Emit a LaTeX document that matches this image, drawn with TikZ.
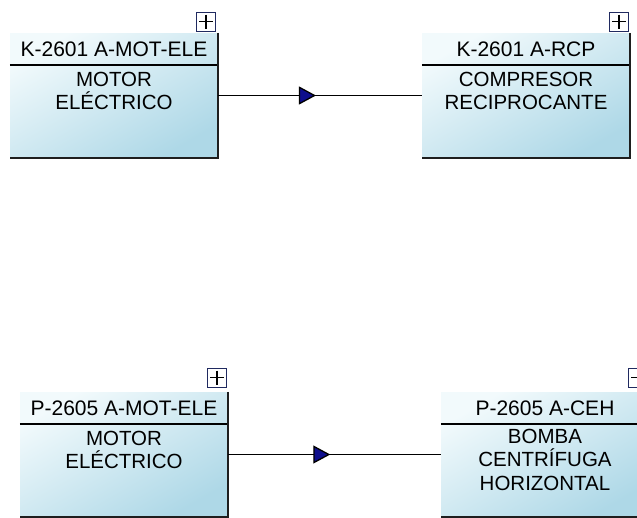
\documentclass[tikz,border=0pt]{standalone}
\usepackage{fontspec}
\setmainfont{Liberation Sans}
\usetikzlibrary{arrows.meta,calc,positioning,decorations.markings}
\definecolor{eqlight}{RGB}{242,250,252}
\definecolor{eqdark}{RGB}{174,216,231}
\definecolor{eqnavy}{RGB}{32,42,96}
\definecolor{eqflow}{RGB}{14,14,140}
\definecolor{eqedge}{RGB}{30,30,30}

\begin{document}
\begin{tikzpicture}[x=1pt, y=-1pt,
    equip/.style={rectangle, minimum width=208pt, minimum height=125pt, inner sep=0pt, top color=eqlight, bottom color=eqdark, shading angle=30},
    tag/.style={inner sep=0pt, font=\fontsize{21}{23}\selectfont},
    desc/.style={anchor=north, inner sep=0pt, align=center, font=\fontsize{20.5}{23.5}\selectfont},
    expander/.style={draw=eqnavy, fill=white, line width=1.2pt, minimum size=19pt, inner sep=0pt, anchor=south east,
      path picture={\draw[black, line width=1.5pt]
        ([xshift=2.5pt]path picture bounding box.west) -- ([xshift=-2.5pt]path picture bounding box.east)
        ([yshift=-2.5pt]path picture bounding box.north) -- ([yshift=2.5pt]path picture bounding box.south);}},
    flow/.style={line width=1.3pt, postaction={decorate}, decoration={markings,
      mark=at position 0.48 with {\arrow{Triangle[length=17pt, width=18pt, fill=eqflow]}}}}
  ]
  \clip (0,0) rectangle (637,517);
  \useasboundingbox (0,0) rectangle (637,517);

  % compressor train
  \node[equip] (motk) at (114, 95.5) {};
  \node[equip] (rcpk) at (526, 95.5) {};
  % pump train
  \node[equip] (motp) at (124, 454.5) {};
  \node[equip] (cehp) at (545, 454.5) {};

  \foreach \eq in {motk, rcpk, motp, cehp} {
    \draw[line width=1.6pt] ($(\eq.north west)+(0,32)$) -- ($(\eq.north east)+(0,32)$);
    \draw[eqedge, line width=2pt] (\eq.north east) -- (\eq.south east) -- (\eq.south west);
  }

  \node[tag] (motktag) at ($(motk.north)+(0,16)$) {K-2601 A-MOT-ELE};
  \node[tag] (rcpktag) at ($(rcpk.north)+(0,16)$) {K-2601 A-RCP};
  \node[tag] (motptag) at ($(motp.north)+(0,16)$) {P-2605 A-MOT-ELE};
  \node[tag] (cehptag) at ($(cehp.north)+(0,16)$) {P-2605 A-CEH};

  \node[desc] (motkdesc) at ($(motk.north)+(0,39)$) {MOTOR\\ELÉCTRICO};
  \node[desc] (rcpkdesc) at ($(rcpk.north)+(0,39)$) {COMPRESOR\\RECIPROCANTE};
  \node[desc] (motpdesc) at ($(motp.north)+(0,39)$) {MOTOR\\ELÉCTRICO};
  \node[desc] (cehpdesc) at ($(cehp.north)+(0,37)$) {BOMBA\\CENTRÍFUGA\\HORIZONTAL};

  \node[expander] (motkexp) at ($(motk.north east)+(-2,-1)$) {};
  \node[expander] (rcpkexp) at ($(rcpk.north east)+(-1,-1)$) {};
  \node[expander] (motpexp) at ($(motp.north east)+(-1,-4)$) {};
  \node[expander] (cehpexp) at ($(cehp.north east)+(-1,-4)$) {};

  \draw[flow] (motk.east) -- (rcpk.west);
  \draw[flow] (motp.east) -- (cehp.west);
\end{tikzpicture}
\end{document}
